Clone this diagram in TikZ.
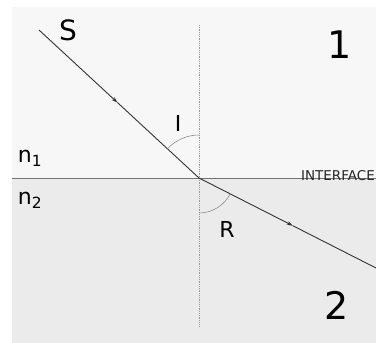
\documentclass[tikz,border=0pt]{standalone}
\usepackage{fontspec}
\setmainfont{DejaVu Sans}
\usetikzlibrary{arrows.meta,positioning,calc}
\begin{document}
\begin{tikzpicture}[x=1pt,y=1pt,ray/.style={draw=black!80,line width=0.9pt},tip/.style={-{Stealth[length=6pt,width=4pt]}},ang/.style={draw=black!45,line width=0.6pt},lbl/.style={inner sep=0pt,font=\fontsize{22}{22}\selectfont},big/.style={inner sep=0pt,font=\fontsize{38}{38}\selectfont}]
\useasboundingbox (0,0) rectangle (376,343);
\fill[black!3] (12,165) rectangle (376,336);
\fill[black!8] (12,0) rectangle (376,165);
\coordinate (hit) at (199,165); \coordinate (src) at (39,313); \coordinate (out) at (376,75);
\coordinate (ntop) at (199,318); \coordinate (nbot) at (199,17);
\coordinate (left) at (12,165); \coordinate (right) at (376,165);
\coordinate (midI) at ($(src)!0.49!(hit)$); \coordinate (midR) at ($(hit)!0.53!(out)$);
\draw[black!40,densely dotted,line width=0.8pt] (ntop)--(nbot);
\draw[black!55,line width=0.8pt] (left)--(right);
\node[inner sep=0pt,anchor=east,text=black!85,font=\fontsize{13.5}{13.5}\selectfont] (iface) at (375,167) {INTERFACE};
\draw[ray,tip] (src)--(midI); \draw[ray] (midI)--(hit);
\draw[ray,tip] (hit)--(midR); \draw[ray] (midR)--(out);
\draw[ang] (hit) ++(90:43) arc[start angle=90,end angle=137,radius=43];
\draw[ang] (hit) ++(-90:35) arc[start angle=-90,end angle=-27,radius=35];
\node[lbl,font=\fontsize{28}{28}\selectfont] (s) at (68,313) {S};
\node[big] (one) at (340,298) {1}; \node[big] (two) at (337,38) {2};
\node[lbl] (i) at (178,220) {I}; \node[lbl] (r) at (227,114) {R};
\node[lbl] (n1) at (30,185) {n\textsubscript{1}}; \node[lbl] (n2) at (30,143) {n\textsubscript{2}};
\end{tikzpicture}
\end{document}
